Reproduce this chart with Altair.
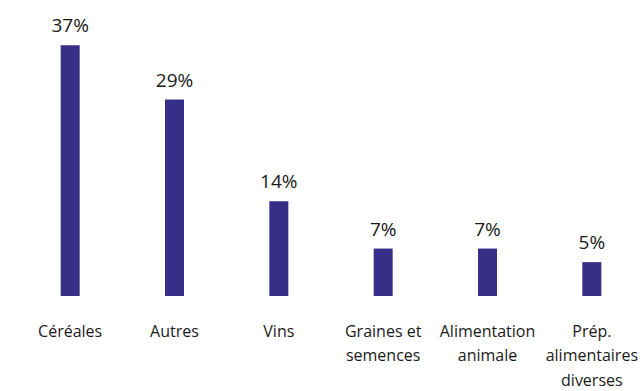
import altair as alt
import pandas as pd

# Share of each product family (%)
categories = ["Céréales", "Autres", "Vins", "Graines et|semences", "Alimentation|animale", "Prép.|alimentaires|diverses"]
shares = [37, 29, 14, 7, 7, 5]
share_labels = ["37%", "29%", "14%", "7%", "7%", "5%"]

df = pd.DataFrame({"cat": categories, "share": shares, "label": share_labels})

FONT = "Open Sans"
BAR = "#372f87"

x = alt.X(
    "cat:N",
    sort=categories,
    scale=alt.Scale(paddingInner=0, paddingOuter=0),
    axis=alt.Axis(
        title=None,
        domain=False,
        ticks=False,
        grid=False,
        labelAngle=0,
        labelExpr="split(datum.value, '|')",
        labelFont=FONT,
        labelFontSize=16,
        labelColor="#1a1a1a",
        labelPadding=35,
        labelLineHeight=24.5,
        labelBaseline="middle",
        labelLimit=0,
    ),
)
y = alt.Y("share:Q", scale=alt.Scale(domain=[0, 40]), axis=None)

bars = alt.Chart(df).mark_bar(color=BAR, size=19).encode(x=x, y=y)
text = alt.Chart(df).mark_text(
    font=FONT, fontSize=19, color="#1a1a1a", baseline="bottom", dy=-9
).encode(x=x, y=y, text="label:N")

chart = (
    alt.layer(bars, text)
    .properties(
        width=626,
        height=271,
        background="white",
        padding={"left": 18, "top": 25, "right": 0, "bottom": 95},
        autosize=alt.AutoSizeParams(type="none"),
    )
    .configure_view(strokeWidth=0)
)

chart.save("out.html", embed_options={"renderer": "svg", "actions": False})
